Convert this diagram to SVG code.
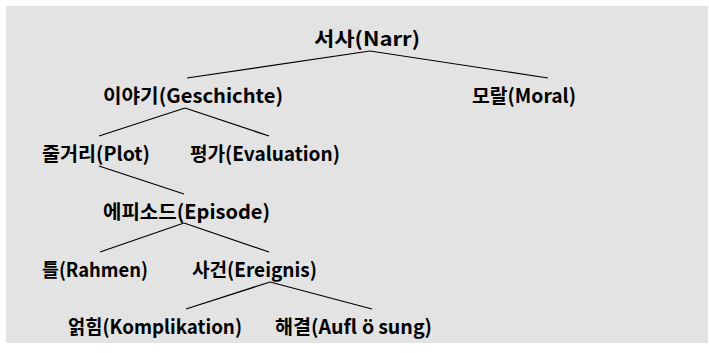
<svg xmlns="http://www.w3.org/2000/svg" width="709" height="353" viewBox="0 0 709 353">
<style>
.bg{fill:#e3e3e3}
.t{font-family:"Noto Sans CJK KR","Noto Sans",sans-serif;font-size:19.5px;font-weight:bold;fill:#000}
.c line{stroke:#000;stroke-width:1.2}
</style>
<rect x="0" y="0" width="709" height="353" fill="#fff"/>
<rect class="bg" x="6" y="6" width="702" height="337"/>
<g class="c" id="connectors">
<line x1="370" y1="51" x2="187" y2="78"/>
<line x1="370" y1="51" x2="548" y2="78"/>
<line x1="185" y1="108" x2="99" y2="136"/>
<line x1="185" y1="108" x2="269" y2="136"/>
<line x1="99" y1="166" x2="184" y2="194"/>
<line x1="184" y1="223" x2="100" y2="252"/>
<line x1="184" y1="223" x2="269" y2="252"/>
<line x1="270" y1="282" x2="186" y2="309"/>
<line x1="270" y1="282" x2="372" y2="309"/>
</g>
<g id="n-narr"><text class="t" x="314" y="46" textLength="106" lengthAdjust="spacingAndGlyphs">서사(Narr)</text></g>
<g id="n-geschichte"><text class="t" x="103" y="103" textLength="180" lengthAdjust="spacingAndGlyphs">이야기(Geschichte)</text></g>
<g id="n-moral"><text class="t" x="472" y="103" textLength="104" lengthAdjust="spacingAndGlyphs">모랄(Moral)</text></g>
<g id="n-plot"><text class="t" x="42" y="161" textLength="108" lengthAdjust="spacingAndGlyphs">줄거리(Plot)</text></g>
<g id="n-evaluation"><text class="t" x="190" y="161" textLength="150" lengthAdjust="spacingAndGlyphs">평가(Evaluation)</text></g>
<g id="n-episode"><text class="t" x="103" y="219" textLength="167" lengthAdjust="spacingAndGlyphs">에피소드(Episode)</text></g>
<g id="n-rahmen"><text class="t" x="42" y="277" textLength="106" lengthAdjust="spacingAndGlyphs">틀(Rahmen)</text></g>
<g id="n-ereignis"><text class="t" x="192" y="277" textLength="125" lengthAdjust="spacingAndGlyphs">사건(Ereignis)</text></g>
<g id="n-komplikation"><text class="t" x="68" y="334" textLength="174" lengthAdjust="spacingAndGlyphs">얽힘(Komplikation)</text></g>
<g id="n-aufloesung"><text class="t" x="275" y="334" textLength="157" lengthAdjust="spacingAndGlyphs">해결(Aufl<tspan dx="5">ö</tspan><tspan dx="4">sung)</tspan></text></g>
</svg>
